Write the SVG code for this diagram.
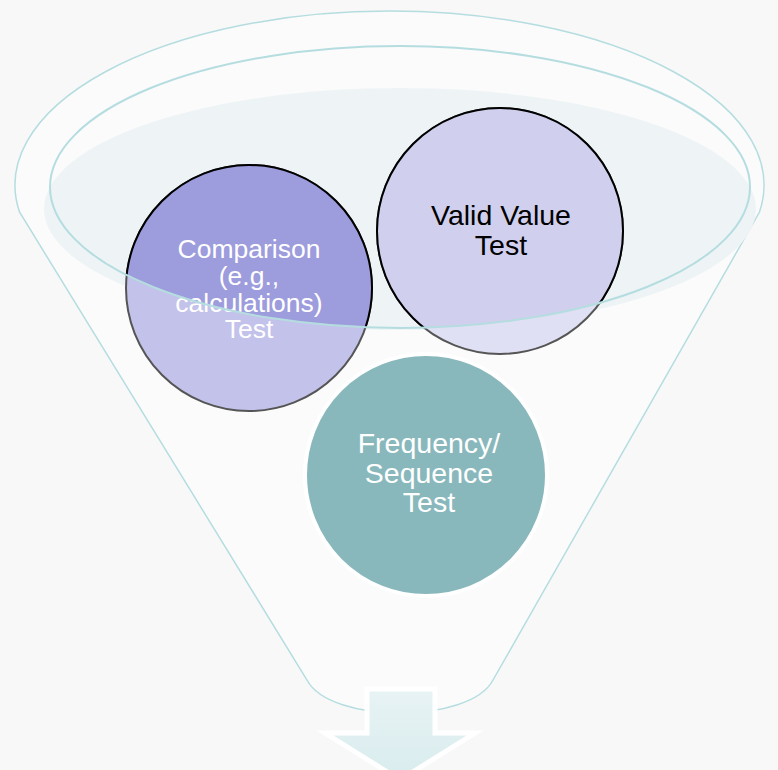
<svg xmlns="http://www.w3.org/2000/svg" width="778" height="770" viewBox="0 0 778 770">
<defs>
<style>
.funnel{fill:#fbfbfb;stroke:#b5dde0;stroke-width:1.5}
.rim{fill:none;stroke:#b5dde0;stroke-width:2}
.lbl{font-family:"Liberation Sans",Arial,sans-serif;font-size:26.5px;text-anchor:middle}
.big{font-size:28.5px}
.w{fill:#ffffff}
.k{fill:#000000}
</style>
<clipPath id="inner"><ellipse cx="400" cy="187" rx="350" ry="141"/></clipPath>
<linearGradient id="arrowGrad" x1="0" y1="0" x2="0" y2="1">
<stop offset="0" stop-color="#e8f3f4"/>
<stop offset="1" stop-color="#d8ecee"/>
</linearGradient>
</defs>
<rect x="0" y="0" width="778" height="770" fill="#f8f8f8"/>
<g id="funnel">
<path class="funnel" d="M19.5,212 A374.5,174 0 1 1 759.5,212 L493,680 C470,724 330,724 307,680 Z"/>
<ellipse cx="400" cy="209" rx="356" ry="121" fill="#eef4f6"/>
</g>
<g id="arrow">
<path d="M367,689 L435,689 L435,733 L475,733 L400,780 L325,733 L367,733 Z" fill="url(#arrowGrad)" stroke="#ffffff" stroke-width="5" stroke-linejoin="miter"/>
</g>
<g id="node-comparison">
<circle cx="249" cy="288" r="123" fill="#c3c2ea" stroke="#555555" stroke-width="2"/>
<circle cx="249" cy="288" r="123" fill="#9d9cdc" stroke="#000000" stroke-width="2" clip-path="url(#inner)"/>
<text class="lbl w" x="249" y="258">Comparison</text>
<text class="lbl w" x="249" y="285">(e.g.,</text>
<text class="lbl w" x="249" y="312">calculations)</text>
<text class="lbl w" x="249" y="338">Test</text>
</g>
<g id="node-valid">
<circle cx="500" cy="231" r="123" fill="#e0e0f4" stroke="#555555" stroke-width="2"/>
<circle cx="500" cy="231" r="123" fill="#d0d0ee" stroke="#000000" stroke-width="2" clip-path="url(#inner)"/>
<text class="lbl big k" x="501" y="225">Valid Value</text>
<text class="lbl big k" x="501" y="255">Test</text>
</g>
<g id="rim">
<ellipse class="rim" cx="400" cy="187" rx="350" ry="141"/>
</g>
<g id="node-frequency">
<circle cx="426" cy="475" r="121" fill="#89b8bc" stroke="#ffffff" stroke-width="4"/>
<text class="lbl big w" x="429" y="453">Frequency/</text>
<text class="lbl big w" x="429" y="483">Sequence</text>
<text class="lbl big w" x="429" y="512">Test</text>
</g>
<g id="connectors"/>
</svg>
